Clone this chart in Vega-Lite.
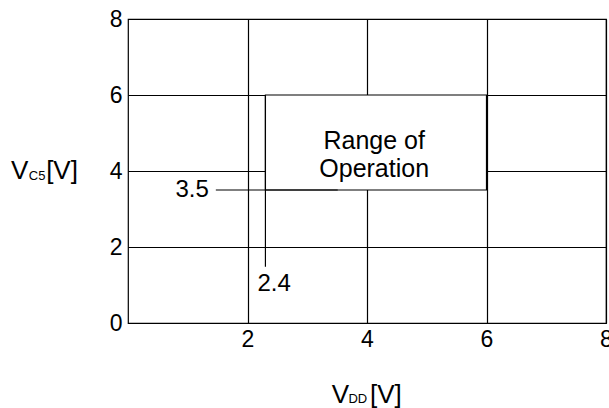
{
  "$schema": "https://vega.github.io/schema/vega-lite/v6.json",
  "width": 478,
  "height": 304,
  "autosize": {"type": "none"},
  "padding": {"left": 128, "top": 19, "right": 3, "bottom": 85},
  "background": "white",
  "config": {
    "font": "Liberation Sans",
    "view": {"stroke": "black", "strokeWidth": 1.2},
    "axis": {
      "domain": false,
      "ticks": false,
      "grid": true,
      "gridColor": "black",
      "gridOpacity": 1,
      "gridWidth": 1.2,
      "labelFont": "Liberation Sans",
      "labelFontSize": 23,
      "labelColor": "black",
      "labelFlush": false,
      "labelOverlap": false,
      "format": "d",
      "title": null
    },
    "text": {"font": "Liberation Sans", "color": "black"}
  },
  "datasets": {
    "box": [{"x": 2.3, "x2": 6, "y": 3.5, "y2": 6}],
    "leaders": [
      {"x": 2.3, "x2": 2.3, "y": 1.48, "y2": 6},
      {"x": 1.47, "x2": 3.51, "y": 3.5, "y2": 3.5}
    ],
    "val35": [{"x": 1.47, "y": 3.5, "label": "3.5"}],
    "val24": [{"x": 2.3, "y": 1.48, "label": "2.4"}],
    "region": [{"x": 4.12, "y": 4.78, "label": "Range of\nOperation"}],
    "titleMain": [
      {"x": -1.96, "y": 3.79, "label": "V"},
      {"x": -1.37, "y": 3.79, "label": "[V]"},
      {"x": 3.41, "y": -2.1, "label": "V"},
      {"x": 4.05, "y": -2.1, "label": "[V]"}
    ],
    "titleSub": [
      {"x": -1.66, "y": 3.77, "label": "C5"},
      {"x": 3.69, "y": -2.1, "label": "DD"}
    ]
  },
  "layer": [
    {
      "data": {"name": "box"},
      "mark": {"type": "rect", "fill": "white", "stroke": "black", "strokeWidth": 1.2},
      "encoding": {
        "x": {"field": "x", "type": "quantitative", "scale": {"domain": [0, 8], "nice": false},
              "axis": {"values": [2, 4, 6, 8], "labelPadding": 5, "orient": "bottom"}},
        "x2": {"field": "x2"},
        "y": {"field": "y", "type": "quantitative", "scale": {"domain": [0, 8], "nice": false},
              "axis": {"values": [0, 2, 4, 6, 8], "labelPadding": 6, "orient": "left"}},
        "y2": {"field": "y2"}
      }
    },
    {
      "data": {"name": "leaders"},
      "mark": {"type": "rule", "color": "black", "strokeWidth": 1.2},
      "encoding": {
        "x": {"field": "x", "type": "quantitative"},
        "x2": {"field": "x2"},
        "y": {"field": "y", "type": "quantitative"},
        "y2": {"field": "y2"}
      }
    },
    {
      "data": {"name": "val35"},
      "mark": {"type": "text", "align": "right", "baseline": "middle", "dx": -7, "fontSize": 24},
      "encoding": {
        "x": {"field": "x", "type": "quantitative"},
        "y": {"field": "y", "type": "quantitative"},
        "text": {"field": "label"}
      }
    },
    {
      "data": {"name": "val24"},
      "mark": {"type": "text", "align": "left", "baseline": "top", "dx": -8, "dy": 5, "fontSize": 24},
      "encoding": {
        "x": {"field": "x", "type": "quantitative"},
        "y": {"field": "y", "type": "quantitative"},
        "text": {"field": "label"}
      }
    },
    {
      "data": {"name": "region"},
      "mark": {"type": "text", "align": "center", "baseline": "middle", "fontSize": 25, "lineBreak": "\n", "lineHeight": 28},
      "encoding": {
        "x": {"field": "x", "type": "quantitative"},
        "y": {"field": "y", "type": "quantitative"},
        "text": {"field": "label"}
      }
    },
    {
      "data": {"name": "titleMain"},
      "mark": {"type": "text", "align": "left", "baseline": "alphabetic", "fontSize": 26, "clip": false},
      "encoding": {
        "x": {"field": "x", "type": "quantitative"},
        "y": {"field": "y", "type": "quantitative"},
        "text": {"field": "label"}
      }
    },
    {
      "data": {"name": "titleSub"},
      "mark": {"type": "text", "align": "left", "baseline": "alphabetic", "fontSize": 13, "clip": false},
      "encoding": {
        "x": {"field": "x", "type": "quantitative"},
        "y": {"field": "y", "type": "quantitative"},
        "text": {"field": "label"}
      }
    }
  ]
}
